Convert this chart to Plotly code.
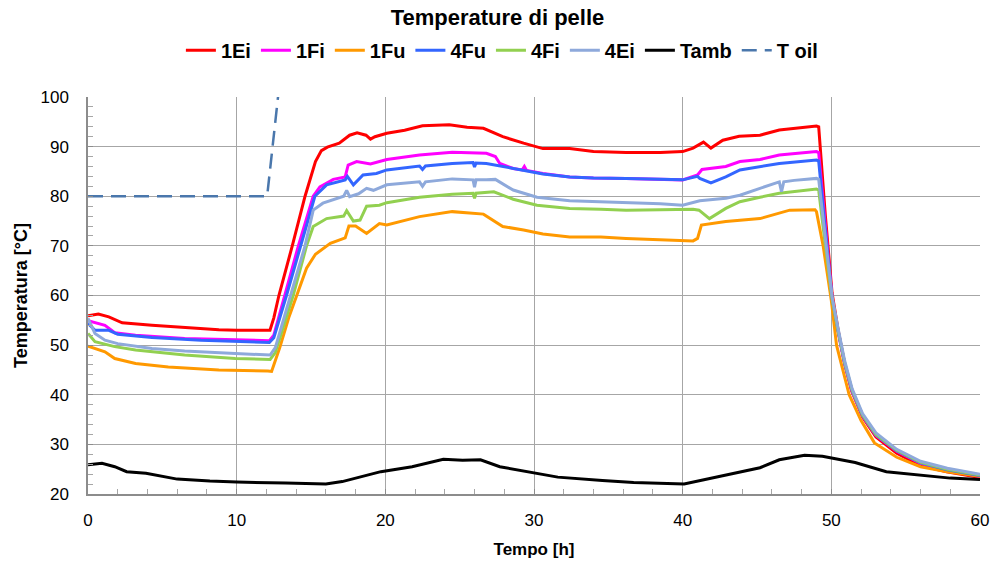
import plotly.graph_objects as go

# ---------------- data ----------------
t_1Ei = [0, 0.7, 1.4, 2.3, 4.3, 6.5, 8.8, 10.0, 12.24, 12.5, 12.84, 13.74, 14.6, 15.3, 15.7, 16.1, 16.9, 17.6, 18.1, 18.7, 19.0, 19.3,
         20.1, 21.3, 22.5, 24.3, 25.5, 26.6, 27.9, 29.3, 30.6, 32.4, 34.0, 36.2, 38.5, 40.0, 40.7, 41.4, 41.9, 42.7, 43.8,
         45.2, 46.5, 49.0, 49.15, 49.6, 50.05, 50.46, 50.9, 51.35, 52.1, 53.0, 54.4, 55.95, 57.75, 60]
v_1Ei = [55.9, 56.25, 55.7, 54.5, 54.0, 53.55, 53.1, 53.0, 53.0, 55.5, 60.0, 70.0, 80.0, 87.0, 89.2, 89.9, 90.7, 92.3, 92.8, 92.3, 91.5, 92.0,
         92.7, 93.3, 94.2, 94.4, 93.9, 93.7, 92.0, 90.7, 89.6, 89.6, 89.0, 88.8, 88.8, 89.0, 89.7, 90.9, 89.7, 91.3, 92.1,
         92.3, 93.35, 94.15, 94.0, 76.0, 60.5, 53.0, 46.3, 40.9, 35.5, 31.5, 28.2, 25.8, 24.5, 23.3]

t_1Fi = [0, 0.6, 1.14, 1.8, 3.2, 6.5, 9.9, 12.2, 12.5, 13.25, 14.15, 15.15, 15.6, 16.5, 17.3, 17.5, 18.07, 19.0, 19.6, 20.1, 22.3,
         24.5, 26.8, 27.4, 27.7, 28.6, 29.2, 29.35, 29.5, 30.6, 32.4, 34.0, 36.2, 38.5, 40.0, 41.0, 41.3, 42.9, 43.85, 45.2,
         46.5, 49.0, 49.15, 49.6, 50.05, 50.46, 50.9, 51.4, 52.1, 53.0, 54.4, 56.0, 57.8, 60]
v_1Fi = [54.9, 54.5, 54.0, 52.5, 52.0, 51.35, 51.0, 50.9, 52.0, 60.0, 70.0, 80.0, 81.9, 83.4, 83.9, 86.3, 87.0, 86.5, 87.0, 87.4, 88.3,
         88.85, 88.65, 88.0, 86.6, 85.6, 85.3, 86.0, 85.2, 84.6, 83.9, 83.7, 83.6, 83.4, 83.3, 84.3, 85.4, 86.0, 87.0, 87.4,
         88.3, 89.0, 88.8, 74.0, 59.5, 52.6, 46.0, 40.6, 35.7, 31.8, 28.6, 26.2, 24.8, 23.5]

t_1Fu = [0, 0.5, 1.14, 1.8, 3.2, 5.4, 8.8, 12.1, 12.35, 12.9, 13.5, 14.1, 14.7, 15.3, 16.3, 17.3, 17.55, 18.0, 18.74, 19.6, 20.1,
         22.3, 24.5, 26.6, 27.9, 29.3, 30.6, 32.4, 34.5, 36.2, 38.5, 40.7, 41.0, 41.26, 42.9, 43.85, 45.2, 47.2, 48.9, 49.0,
         49.45, 50.0, 50.35, 51.2, 52.0, 52.9, 54.4, 56.0, 57.8, 60]
v_1Fu = [49.8, 49.3, 48.65, 47.3, 46.3, 45.6, 45.0, 44.8, 44.7, 49.5, 55.5, 60.5, 65.5, 68.3, 70.5, 71.6, 74.0, 74.0, 72.5, 74.5, 74.2,
         75.9, 76.9, 76.4, 73.9, 73.2, 72.4, 71.8, 71.8, 71.5, 71.3, 71.0, 71.5, 74.2, 74.9, 75.2, 75.5, 77.2, 77.3, 76.9,
         70.0, 59.0, 50.0, 40.0, 34.8, 30.3, 27.4, 25.5, 24.5, 23.6]

t_4Fu = [0, 0.47, 1.37, 2.0, 4.3, 7.6, 12.2, 12.5, 13.35, 14.3, 15.26, 16.05, 17.3, 17.45, 17.85, 18.5, 19.4, 20.1, 21.0, 22.3, 22.5,
         22.7, 24.5, 25.9, 26.0, 26.1, 26.8, 27.9, 29.05, 30.6, 32.4, 34.0, 36.2, 38.5, 40.0, 41.0, 41.15, 41.9, 42.9, 43.85,
         45.2, 46.5, 49.0, 49.15, 49.6, 50.05, 50.46, 50.9, 51.4, 52.1, 53.0, 54.4, 56.0, 57.8, 60]
v_4Fu = [54.4, 53.0, 53.0, 52.2, 51.55, 51.0, 50.55, 51.5, 60.0, 70.0, 80.0, 82.3, 83.3, 84.0, 82.3, 84.3, 84.6, 85.3, 85.6, 86.1, 85.4,
         86.1, 86.6, 86.8, 85.9, 86.7, 86.6, 86.0, 85.3, 84.5, 83.9, 83.7, 83.6, 83.4, 83.3, 84.0, 83.6, 82.7, 83.9, 85.3,
         86.0, 86.6, 87.3, 87.1, 73.0, 59.5, 52.8, 46.3, 40.8, 35.8, 31.9, 28.7, 26.3, 24.9, 23.7]

t_4Fi = [0, 0.47, 1.8, 3.2, 6.5, 9.9, 12.25, 12.6, 13.8, 14.7, 15.15, 16.05, 17.2, 17.4, 17.85, 18.3, 18.74, 19.6, 20.1, 22.3, 24.5,
         25.9, 26.0, 26.1, 27.3, 28.6, 30.2, 32.4, 34.5, 36.2, 38.5, 40.7, 41.1, 41.8, 42.9, 43.85, 45.2, 46.5, 49.0, 49.15,
         49.6, 50.05, 50.46, 50.9, 51.4, 52.1, 53.0, 54.4, 56.0, 57.8, 60]
v_4Fi = [52.35, 50.7, 49.7, 49.0, 48.0, 47.3, 47.1, 48.5, 60.0, 70.0, 73.9, 75.5, 76.0, 77.1, 75.0, 75.2, 78.0, 78.2, 78.7, 79.8, 80.4,
         80.6, 79.6, 80.6, 80.9, 79.4, 78.2, 77.55, 77.4, 77.2, 77.3, 77.4, 77.2, 75.5, 77.55, 78.9, 79.8, 80.6, 81.45, 81.2,
         70.0, 59.3, 52.8, 46.4, 40.9, 35.9, 32.0, 28.8, 26.4, 25.0, 23.8]

t_4Ei = [0, 0.47, 1.14, 2.0, 4.3, 6.5, 9.9, 12.25, 12.6, 13.6, 14.6, 15.15, 15.8, 17.2, 17.4, 17.6, 18.2, 18.74, 19.2, 20.1, 22.3,
         22.5, 22.7, 24.5, 25.9, 26.0, 26.1, 26.8, 27.4, 28.6, 30.2, 32.4, 34.5, 36.2, 38.5, 40.0, 41.15, 42.9, 43.85, 45.2,
         46.5, 46.65, 46.8, 47.5, 49.0, 49.15, 49.6, 50.05, 50.46, 50.9, 51.4, 52.1, 53.0, 54.4, 56.0, 57.8, 60]
v_4Ei = [55.4, 52.35, 51.0, 50.3, 49.3, 48.8, 48.3, 48.0, 49.5, 60.0, 70.0, 77.2, 78.6, 80.0, 81.2, 79.9, 80.5, 81.6, 81.2, 82.3, 82.9,
         82.0, 82.9, 83.5, 83.3, 81.8, 83.3, 83.3, 83.4, 81.25, 79.8, 79.1, 78.9, 78.7, 78.5, 78.2, 79.1, 79.6, 80.2, 81.6,
         82.9, 80.9, 82.9, 83.2, 83.6, 83.4, 71.0, 59.7, 53.3, 46.8, 41.2, 36.2, 32.3, 29.0, 26.6, 25.2, 24.0]

t_Tamb = [0, 0.94, 1.8, 2.6, 3.9, 6.0, 8.2, 10.0, 13.3, 16.0, 17.1, 19.7, 21.8, 23.9, 25.2, 26.4, 27.7, 29.9, 31.6, 34.6,
          36.7, 40.1, 40.9, 43.1, 45.2, 46.5, 48.2, 49.4, 51.6, 53.7, 55.8, 58.0, 60]
v_Tamb = [25.9, 26.2, 25.5, 24.5, 24.2, 23.0, 22.6, 22.4, 22.2, 22.0, 22.5, 24.5, 25.5, 27.0, 26.8, 26.9, 25.5, 24.3, 23.4, 22.7,
          22.3, 22.0, 22.5, 24.0, 25.3, 26.9, 27.8, 27.6, 26.35, 24.5, 23.85, 23.2, 22.9]

t_Toil = [0, 12.05, 12.8]
v_Toil = [80, 80, 100.5]

names = ["1Ei", "1Fi", "1Fu", "4Fu", "4Fi", "4Ei", "Tamb", "T oil"]
colors = ["#FF0000", "#FF00FF", "#FF9900", "#3366FF", "#92D050", "#8EA9DB", "#000000", "#4A77AC"]
times = [t_1Ei, t_1Fi, t_1Fu, t_4Fu, t_4Fi, t_4Ei, t_Tamb, t_Toil]
values = [v_1Ei, v_1Fi, v_1Fu, v_4Fu, v_4Fi, v_4Ei, v_Tamb, v_Toil]

FONT = "Liberation Sans, Arial, sans-serif"

fig = go.Figure()
for n, c, tx, vy in zip(names, colors, times, values):
    if n == "T oil":
        ln = dict(color=c, width=2.5, dash="15px,8px")
    else:
        ln = dict(color=c, width=3)
    fig.add_trace(go.Scatter(x=tx, y=vy, mode="lines", name="<b>" + n + "</b>", line=ln))

fig.update_layout(
    width=995, height=569,
    margin=dict(l=88, r=15, t=97, b=75, autoexpand=False),
    paper_bgcolor="white", plot_bgcolor="white",
    font=dict(family=FONT, size=16, color="black"),
    title=dict(text="<b>Temperature di pelle</b>", x=0.5, xanchor="center",
               y=1 - 17 / 569, yanchor="middle", font=dict(size=22, family=FONT)),
    legend=dict(orientation="h", x=0.464, xanchor="center", y=1.118, yanchor="middle",
                font=dict(size=20, family=FONT), tracegroupgap=0,
                bgcolor="rgba(0,0,0,0)"),
    showlegend=True,
)
fig.update_xaxes(range=[0, 60], dtick=10, tick0=0, showgrid=True, gridcolor="#A6A6A6", gridwidth=1,
                 showline=True, linecolor="#8C8C8C", linewidth=1.5, zeroline=False, automargin=False,
                 ticks="inside", ticklen=5, tickcolor="#8C8C8C",
                 minor=dict(dtick=2, ticks="inside", ticklen=5, tickcolor="#A6A6A6", showgrid=False),
                 tickfont=dict(size=17, family=FONT), ticklabelstandoff=10,
                 title=dict(text="<b>Tempo [h]</b>", font=dict(size=17, family=FONT), standoff=14))
fig.update_yaxes(range=[20, 100], dtick=10, tick0=20, showgrid=True, gridcolor="#A6A6A6", gridwidth=1,
                 showline=True, linecolor="#8C8C8C", linewidth=1.5, zeroline=False, automargin=False,
                 ticks="inside", ticklen=5, tickcolor="#8C8C8C",
                 minor=dict(dtick=2, ticks="inside", ticklen=5, tickcolor="#A6A6A6", showgrid=False),
                 tickfont=dict(size=17, family=FONT), ticklabelstandoff=14,
                 title=dict(text="<b>Temperatura [°C]</b>", font=dict(size=18, family=FONT), standoff=8))

fig.write_html("out.html")
